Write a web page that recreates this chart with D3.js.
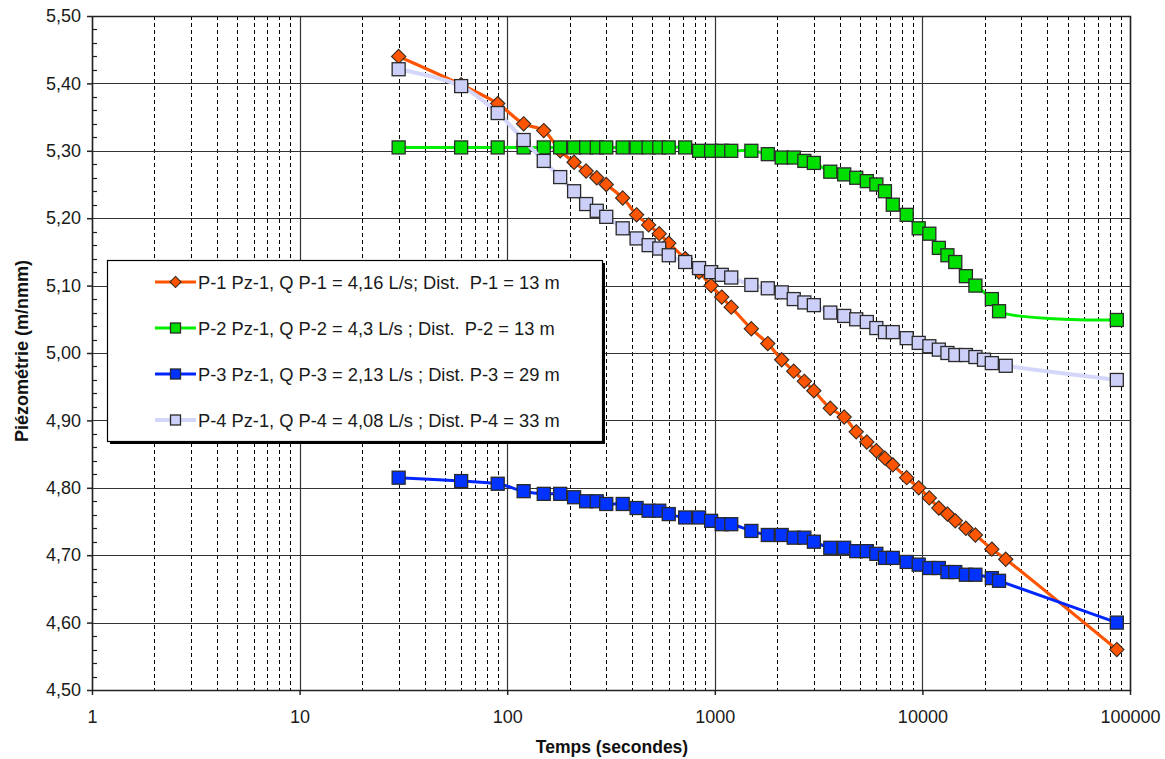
<!DOCTYPE html>
<html>
<head>
<meta charset="utf-8">
<script src="https://cdn.jsdelivr.net/npm/d3@7/dist/d3.min.js"></script>
<style>
  html, body { margin: 0; padding: 0; background: #fff; }
  svg { display: block; font-family: "Liberation Sans", Arial, sans-serif; }
  text { white-space: pre; }
</style>
</head>
<body>
<svg id="chart" width="1165" height="759"></svg>
<script>
// ---- Data ----
const timesP1 = [30,60,90,120,150,180,210,240,270,300,360,420,480,540,600,720,840,960,1080,1200,1500,1800,2100,2400,2700,3000,3600,4200,4800,5400,6000,6600,7200,8400,9600,10800,12000,13200,14400,16200,18000,21600,25200,86400];
const valuesP1 = [5.44,5.398,5.37,5.34,5.33,5.30,5.283,5.27,5.26,5.25,5.23,5.205,5.19,5.177,5.163,5.14,5.12,5.10,5.083,5.068,5.036,5.014,4.99,4.973,4.958,4.944,4.918,4.905,4.883,4.868,4.855,4.844,4.834,4.815,4.80,4.785,4.77,4.761,4.751,4.74,4.73,4.709,4.694,4.56];

const timesP2 = [30,60,90,120,150,180,210,240,270,300,360,420,480,540,600,720,840,960,1080,1200,1500,1800,2100,2400,2700,3000,3600,4200,4800,5400,6000,6600,7200,8400,9600,10800,12000,13200,14400,16200,18000,21600,23400,86400];
const valuesP2 = [5.305,5.305,5.305,5.305,5.305,5.305,5.305,5.305,5.305,5.305,5.305,5.305,5.305,5.305,5.305,5.305,5.30,5.30,5.30,5.30,5.30,5.295,5.29,5.29,5.285,5.282,5.269,5.265,5.26,5.255,5.25,5.24,5.22,5.205,5.185,5.177,5.156,5.145,5.135,5.114,5.10,5.08,5.062,5.049];

const timesP3 = [30,60,90,120,150,180,210,240,270,300,360,420,480,540,600,720,840,960,1080,1200,1500,1800,2100,2400,2700,3000,3600,4200,4800,5400,6000,6600,7200,8400,9600,10800,12000,13200,14400,16200,18000,21600,23400,86400];
const valuesP3 = [4.815,4.81,4.806,4.795,4.791,4.791,4.786,4.78,4.78,4.776,4.776,4.77,4.766,4.766,4.761,4.756,4.756,4.751,4.746,4.746,4.736,4.73,4.73,4.726,4.726,4.72,4.711,4.711,4.706,4.706,4.702,4.696,4.696,4.69,4.686,4.681,4.681,4.675,4.675,4.671,4.671,4.666,4.662,4.60];

const timesP4 = [30,60,90,120,150,180,210,240,270,300,360,420,480,540,600,720,840,960,1080,1200,1500,1800,2100,2400,2700,3000,3600,4200,4800,5400,6000,6600,7200,8400,9600,10800,12000,13200,14400,16200,18000,19800,21600,25200,86400];
const valuesP4 = [5.421,5.396,5.356,5.316,5.285,5.261,5.24,5.221,5.211,5.202,5.185,5.17,5.16,5.155,5.145,5.135,5.126,5.12,5.116,5.112,5.101,5.096,5.09,5.08,5.075,5.071,5.06,5.055,5.05,5.046,5.037,5.031,5.031,5.022,5.015,5.01,5.005,5.00,4.997,4.997,4.994,4.99,4.985,4.981,4.96];

const seriesNames = [
  "P-1 Pz-1, Q P-1 = 4,16 L/s; Dist.  P-1 = 13 m",
  "P-2 Pz-1, Q P-2 = 4,3 L/s ; Dist.  P-2 = 13 m",
  "P-3 Pz-1, Q P-3 = 2,13 L/s ; Dist. P-3 = 29 m",
  "P-4 Pz-1, Q P-4 = 4,08 L/s ; Dist. P-4 = 33 m"
];
const xTickValues = [1,10,100,1000,10000,100000];
const xTickLabels = ["1","10","100","1000","10000","100000"];
const yTickValues = [4.5,4.6,4.7,4.8,4.9,5.0,5.1,5.2,5.3,5.4,5.5];
const xTitle = "Temps (secondes)";
const yTitle = "Piézométrie (m/nmm)";

// ---- Styles ----
const styles = [
  {line:"#FF5500", fill:"#FF5500", width:3.2, marker:"diamond"},
  {line:"#00F000", fill:"#00E000", width:3, marker:"square"},
  {line:"#0026FF", fill:"#0033FF", width:3, marker:"square"},
  {line:"#D4D7FA", fill:"#CCCFF7", width:4, marker:"square"}
];

const series = [
  {t: timesP1, v: valuesP1},
  {t: timesP2, v: valuesP2},
  {t: timesP3, v: valuesP3},
  {t: timesP4, v: valuesP4}
];

const svg = d3.select("#chart");
const pL = 92, pR = 1130, pT = 16, pB = 690;
const x = d3.scaleLog().domain([1,100000]).range([pL,pR]);
const y = d3.scaleLinear().domain([4.5,5.5]).range([pB,pT]);

// minor vertical dashed gridlines
const minorX = [];
for (let d = 1; d < 100000; d *= 10) for (let k = 2; k <= 9; k++) minorX.push(d*k);
svg.append("g").selectAll("line").data(minorX).join("line")
  .attr("x1", d => Math.round(x(d))+0.5).attr("x2", d => Math.round(x(d))+0.5)
  .attr("y1", pT).attr("y2", pB)
  .attr("stroke", "#000").attr("stroke-width", 1).attr("stroke-dasharray", "4,3");

// major vertical gridlines
svg.append("g").selectAll("line").data(xTickValues).join("line")
  .attr("x1", d => Math.round(x(d))+0.5).attr("x2", d => Math.round(x(d))+0.5)
  .attr("y1", pT).attr("y2", pB)
  .attr("stroke", "#333").attr("stroke-width", 1.2);

// horizontal gridlines
svg.append("g").selectAll("line").data(yTickValues).join("line")
  .attr("x1", pL).attr("x2", pR)
  .attr("y1", d => Math.round(y(d))+0.5).attr("y2", d => Math.round(y(d))+0.5)
  .attr("stroke", "#333").attr("stroke-width", 1.2);

// plot border
svg.append("rect").attr("x", pL+0.5).attr("y", pT+0.5)
  .attr("width", pR-pL).attr("height", pB-pT)
  .attr("fill", "none").attr("stroke", "#222").attr("stroke-width", 1.5);

// y axis
const yAxis = d3.axisLeft(y).tickValues(yTickValues).tickSize(5).tickPadding(6)
  .tickFormat(d => d3.format(".2f")(d).replace(".", ","));
const gy = svg.append("g").attr("transform", `translate(${pL},0)`).call(yAxis);
gy.select(".domain").remove();
gy.selectAll(".tick line").attr("stroke", "#222").attr("stroke-width", 1.5);
gy.selectAll(".tick text").attr("font-size", 18).attr("fill", "#1a1a1a")
  .attr("font-family", "Liberation Sans, Arial, sans-serif");

// minor y ticks (inside)
const minorY = [];
for (let i = 0; i < 10; i++) for (let k = 1; k <= 4; k++) minorY.push(+(4.5 + i*0.1 + k*0.02).toFixed(2));
svg.append("g").selectAll("line").data(minorY).join("line")
  .attr("x1", pL).attr("x2", pL+5)
  .attr("y1", d => Math.round(y(d))+0.5).attr("y2", d => Math.round(y(d))+0.5)
  .attr("stroke", "#222").attr("stroke-width", 1.2);

// x axis
const xAxis = d3.axisBottom(x).tickValues(xTickValues).tickSize(5).tickPadding(15)
  .tickFormat((d,i) => xTickLabels[i]);
const gx = svg.append("g").attr("transform", `translate(0,${pB})`).call(xAxis);
gx.select(".domain").remove();
gx.selectAll(".tick line").attr("stroke", "#222").attr("stroke-width", 1.5);
gx.selectAll(".tick text").attr("font-size", 18).attr("fill", "#1a1a1a")
  .attr("font-family", "Liberation Sans, Arial, sans-serif");

// axis titles
svg.append("text").attr("x", 612).attr("y", 753).attr("text-anchor", "middle")
  .attr("font-size", 17.5).attr("font-weight", "bold").attr("fill", "#111").text(xTitle);
svg.append("text").attr("transform", "translate(28,351) rotate(-90)").attr("text-anchor", "middle")
  .attr("font-size", 18).attr("font-weight", "bold").attr("fill", "#111").text(yTitle);

// series
const line = d3.line().x(d => x(d[0])).y(d => y(d[1])).curve(d3.curveCatmullRom.alpha(0.5));
function drawMarker(g, type, cx, cy, size, fill) {
  if (type === "diamond") {
    const h = size*0.62;
    g.append("path").attr("d", `M${cx},${cy-h}L${cx+h},${cy}L${cx},${cy+h}L${cx-h},${cy}Z`)
      .attr("fill", fill).attr("stroke", "#3a2a20").attr("stroke-width", 1.1);
  } else {
    g.append("rect").attr("x", cx-size/2).attr("y", cy-size/2).attr("width", size).attr("height", size)
      .attr("fill", fill).attr("stroke", "#2a2a2a").attr("stroke-width", 1.3);
  }
}
series.forEach((s, i) => {
  const st = styles[i];
  const pts = s.t.map((t, j) => [t, s.v[j]]);
  const g = svg.append("g");
  g.append("path").attr("d", line(pts)).attr("fill", "none")
    .attr("stroke", st.line).attr("stroke-width", st.width).attr("stroke-linejoin", "round");
  pts.forEach(p => drawMarker(g, st.marker, x(p[0]), y(p[1]), st.marker === "diamond" ? 11.5 : 13, st.fill));
});

// legend
const lg = svg.append("g");
lg.append("rect").attr("x", 110).attr("y", 263).attr("width", 495).attr("height", 181).attr("fill", "#000");
lg.append("rect").attr("x", 107.5).attr("y", 260.5).attr("width", 495).attr("height", 181)
  .attr("fill", "#fff").attr("stroke", "#000").attr("stroke-width", 1.2);
const rowY = [282, 328, 374, 420];
seriesNames.forEach((name, i) => {
  const st = styles[i];
  const cy = rowY[i];
  lg.append("line").attr("x1", 155).attr("x2", 196).attr("y1", cy).attr("y2", cy)
    .attr("stroke", st.line).attr("stroke-width", st.width);
  drawMarker(lg, st.marker, 175.5, cy, st.marker === "diamond" ? 9 : 10, st.fill);
  lg.append("text").attr("x", 198).attr("y", cy + 6.5).attr("font-size", 18.3)
    .attr("fill", "#1a1a1a").text(name);
});
</script>
</body>
</html>
